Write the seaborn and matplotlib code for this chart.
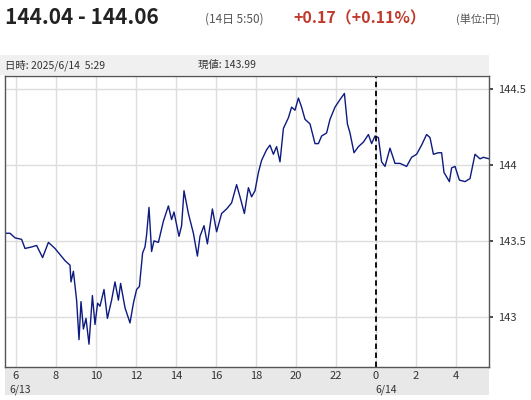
import matplotlib
matplotlib.use("Agg")
import matplotlib.pyplot as plt
import seaborn as sns
import pandas as pd

hours = [5.45,5.70,5.95,6.28,6.45,6.78,7.03,7.33,7.62,7.95,8.20,8.45,8.70,8.75,8.87,9.03,9.15,9.25,9.37,9.50,
         9.65,9.82,9.95,10.08,10.20,10.40,10.57,10.78,10.95,11.12,11.23,11.45,11.70,11.87,12.03,12.17,12.33,12.45,12.53,12.65,
         12.78,12.90,13.12,13.37,13.62,13.78,13.90,14.15,14.28,14.40,14.62,14.87,15.07,15.20,15.40,15.57,15.82,16.03,16.28,16.53,
         16.78,17.03,17.20,17.42,17.62,17.78,17.95,18.12,
         18.28,18.53,18.70,18.87,19.03,19.20,19.37,19.62,19.78,19.95,20.12,20.28,20.45,20.70,20.95,21.12,21.28,21.53,21.70,21.95,
         22.20,22.42,22.57,22.70,22.90,23.12,23.37,23.62,23.78,23.95,24.12,24.28,24.45,24.70,24.95,25.20,25.53,25.78,26.03,26.28,
         26.53,26.70,26.87,27.12,27.28,27.40,27.67,27.78,27.95,28.17,28.45,28.70,28.95,29.20,29.37,29.65]
prices = [143.55,143.55,143.52,143.51,143.45,143.46,143.47,143.39,143.49,143.45,143.41,143.37,143.34,143.23,143.30,143.11,142.85,143.10,142.92,142.99,
          142.82,143.14,142.95,143.09,143.07,143.18,142.99,143.11,143.23,143.11,143.22,143.06,142.96,143.09,143.18,143.20,143.42,143.46,143.54,143.72,
          143.43,143.50,143.49,143.63,143.73,143.64,143.69,143.53,143.60,143.83,143.68,143.55,143.40,143.53,143.60,143.48,143.71,143.56,143.68,143.71,
          143.75,143.87,143.79,143.68,143.85,143.79,143.83,143.95,
          144.03,144.10,144.13,144.07,144.12,144.02,144.24,144.31,144.38,144.36,144.44,144.38,144.30,144.27,144.14,144.14,144.19,144.21,144.30,144.38,
          144.43,144.47,144.27,144.21,144.08,144.12,144.15,144.20,144.14,144.19,144.18,144.02,143.99,144.11,144.01,144.01,143.99,144.05,144.07,144.13,
          144.20,144.18,144.07,144.08,144.08,143.95,143.89,143.98,143.99,143.90,143.89,143.91,144.07,144.04,144.05,144.04]
x_ticks = [6, 8, 10, 12, 14, 16, 18, 20, 22, 24, 26, 28]
x_labels = ["6", "8", "10", "12", "14", "16", "18", "20", "22", "0", "2", "4"]
y_ticks = [143, 143.5, 144, 144.5]
y_labels = ["143", "143.5", "144", "144.5"]

sns.set_theme(style="white")
plt.rcParams['font.family'] = ['Noto Sans CJK JP', 'DejaVu Sans']

df = pd.DataFrame({"hour": hours, "price": prices})
fig = plt.figure(figsize=(5.31, 4.0), dpi=100)
W, H = 531, 400
def fx(px): return px / W
def fy(py): return 1 - py / H

# background bands (separate axes drawn underneath)
b1 = fig.add_axes([fx(0), fy(75), fx(489), 20 / H], zorder=-2)
b1.set_facecolor("#f0f0f0"); b1.set_axis_off()
b1.add_artist(plt.Rectangle((0, 0), 1, 1, transform=b1.transAxes, color="#f0f0f0"))
b2 = fig.add_axes([fx(5), fy(395), fx(484), 28 / H], zorder=-2)
b2.set_axis_off()
b2.add_artist(plt.Rectangle((0, 0), 1, 1, transform=b2.transAxes, color="#e8e8e8"))

ax = fig.add_axes([fx(5), fy(367), fx(484), (367 - 76) / H], zorder=1)
sns.lineplot(data=df, x="hour", y="price", ax=ax, color="#0d1a80", linewidth=1.0)
ax.set_xlim(5.45, 29.65)
ax.set_ylim(142.67, 144.585)
ax.set_xticks(x_ticks)
ax.set_xticklabels(x_labels)
ax.set_yticks(y_ticks)
ax.set_yticklabels(y_labels)
ax.yaxis.tick_right()
ax.grid(True, color="#dddddd", linewidth=1)
ax.axvline(24, color="black", linestyle=(0, (3, 2)), linewidth=1.3)
ax.set_xlabel("")
ax.set_ylabel("")
ax.tick_params(axis="y", length=3, labelsize=8, colors="#333333", right=True, direction="out")
ax.tick_params(axis="x", length=0, labelsize=8, colors="#333333", pad=3)
for s in ax.spines.values():
    s.set_color("#555555")
    s.set_linewidth(1)

fig.text(fx(5), fy(18), "144.04 - 144.06", fontsize=15, fontweight="bold", color="#222222", va="center")
fig.text(fx(205), fy(19), "(14日 5:50)", fontsize=8.5, color="#555555", va="center")
fig.text(fx(293), fy(18), "+0.17（+0.11%）", fontsize=11.5, fontweight="bold", color="#c0392b", va="center")
fig.text(fx(456), fy(19), "(単位:円)", fontsize=8, color="#555555", va="center")
fig.text(fx(5), fy(65), "日時: 2025/6/14  5:29", fontsize=7.5, color="#333333", va="center")
fig.text(fx(198), fy(65), "現値: 143.99", fontsize=7.5, color="#333333", va="center")
fig.text(fx(9), fy(390), "6/13", fontsize=7.5, color="#333333", va="center")
fig.text(fx(375), fy(390), "6/14", fontsize=7.5, color="#333333", va="center")

fig.savefig("out.png", dpi=100)
